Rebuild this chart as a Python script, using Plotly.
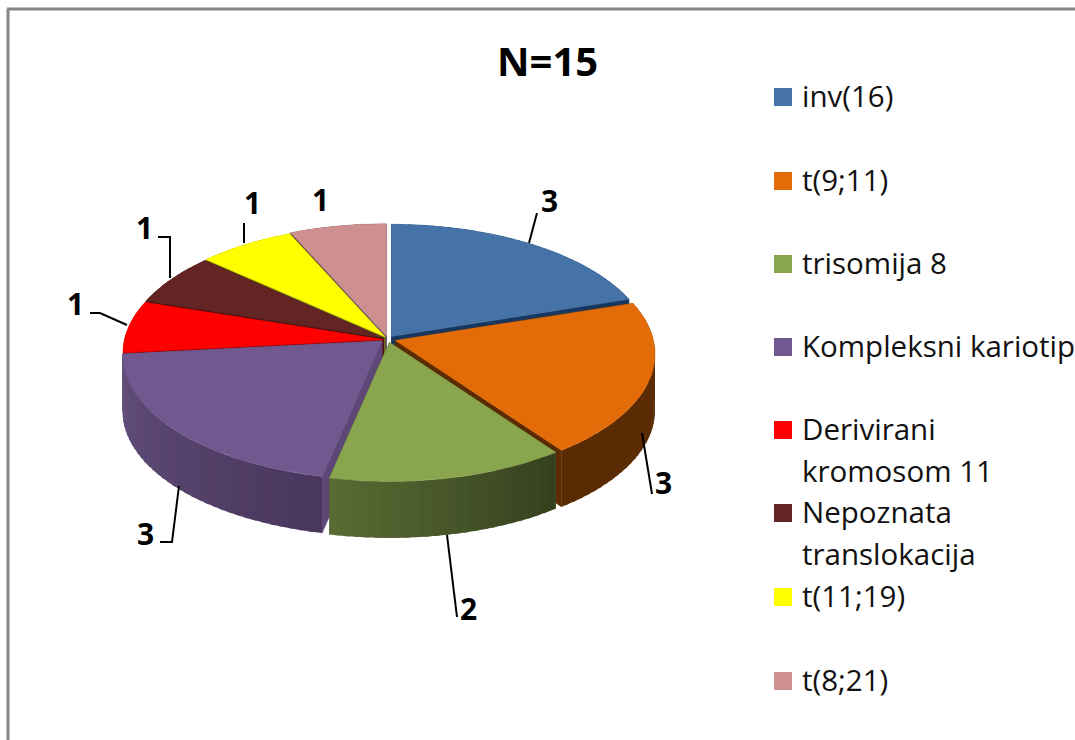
import math
import plotly.graph_objects as go

# ---- data ----
categories = ["inv(16)", "t(9;11)", "trisomija 8", "Kompleksni kariotip",
              "Derivirani\nkromosom 11", "Nepoznata\ntranslokacija", "t(11;19)", "t(8;21)"]
values = [3, 3, 2, 3, 1, 1, 1, 1]
title_text = "N=15"

# ---- styles ----
top_colors = ["#4572A7", "#E36C09", "#89A54E", "#71588F", "#FF0000", "#632523", "#FFFF00", "#CD8F8F"]
wall_left = [(23, 55, 94), (91, 44, 3), (88, 107, 52), (99, 79, 124), (150, 0, 0), (60, 20, 18), (120, 120, 0), (110, 75, 75)]
wall_right = [(23, 55, 94), (91, 44, 3), (54, 64, 30), (74, 55, 94), (150, 0, 0), (60, 20, 18), (120, 120, 0), (110, 75, 75)]
face_colors = ["#17375E", "#5B2C03", "#4F6128", "#5C4776", "#8E0000", "#3A1614", "#6E6E20", "#5E4A5E"]

# ---- pie projection (perspective disc, exploded slices) ----
explode_center = [(391.5, 336.3), (395.5, 340.5), (389.5, 342.5), (382, 341), (382.5, 339.5), (383.5, 338), (385, 336.8), (386.3, 335.8)]
RX, RY, PERSP, DEPTH = 258, 124, 0.1075, 56.5
draw_order = [7, 6, 5, 4, 0, 1, 3, 2]


def project(center, deg, z=0.0, r=1.0):
    a = math.radians(deg)
    X, Y = r * math.sin(a), r * math.cos(a)
    w = 1 + PERSP * Y
    return center[0] + RX * X / w, center[1] - RY * Y / w + z * DEPTH


def poly(points, color, name, width=0.6):
    xs = [p[0] for p in points] + [points[0][0]]
    ys = [p[1] for p in points] + [points[0][1]]
    return go.Scatter(x=xs, y=ys, mode="lines", fill="toself", fillcolor=color,
                      line=dict(color=color, width=width), hoverinfo="text", text=name,
                      showlegend=False)


total = sum(values)
edges = [0.0]
for v in values:
    edges.append(edges[-1] + 360.0 * v / total)

fig = go.Figure()
for i in draw_order:
    c, a0, a1 = explode_center[i], edges[i], edges[i + 1]
    name = categories[i].replace("\n", " ")
    steps = max(2, int(round((a1 - a0) / 2)))
    angles = [a0 + (a1 - a0) * s / steps for s in range(steps + 1)]
    # cut faces
    for a in (a0, a1):
        fig.add_trace(poly([project(c, a, 0, 0), project(c, a), project(c, a, 1), project(c, a, 1, 0)],
                           face_colors[i], name))
    # outer wall, split into overlapping strips for the shading (drawn right to left on the front)
    for s in range(steps):
        t = s / max(1, steps - 1)
        rgb = [round(wall_right[i][k] + (wall_left[i][k] - wall_right[i][k]) * t) for k in range(3)]
        p0, p1 = angles[s], angles[min(s + 1, steps)]
        p1b = min(p1 + 1.0, a1)
        fig.add_trace(poly([project(c, p0), project(c, p1b), project(c, p1b, 1), project(c, p0, 1)],
                           "rgb(%d,%d,%d)" % tuple(rgb), name, width=0))
    # top
    top = [project(c, 0, 0, 0)] + [project(c, a) for a in angles]
    fig.add_trace(poly(top, top_colors[i], name))

# ---- leader lines and data labels ----
leader_paths = [
    [(537, 213), (529, 243)],
    [(642, 433), (652, 494)],
    [(447, 535), (457, 617)],
    [(179, 486), (172, 542), (160, 542)],
    [(127, 325), (100, 313), (90, 313)],
    [(170, 278), (170, 237), (158, 237)],
    [(244, 223), (244, 243)],
]
label_pos = [(549, 200), (663, 482), (468, 608), (145, 533), (75, 303), (144, 227), (252, 202), (320, 199)]
for path in leader_paths:
    fig.add_trace(go.Scatter(x=[p[0] for p in path], y=[p[1] for p in path], mode="lines",
                             line=dict(color="black", width=2), hoverinfo="skip", showlegend=False))
annotations = []
for v, (x, y) in zip(values, label_pos):
    annotations.append(dict(x=x, y=y, text="<b>%d</b>" % v, showarrow=False, xref="x", yref="y",
                            font=dict(family="Open Sans", size=30, color="black")))

# ---- legend ----
legend_y = [97, 181, 264, 347, 430, 513, 597, 681]
line_gap = 42
for i, name in enumerate(categories):
    fig.add_trace(go.Scatter(x=[783], y=[legend_y[i]], mode="markers", hoverinfo="skip", showlegend=False,
                             marker=dict(symbol="square", size=18, color=top_colors[i])))
    for j, part in enumerate(name.split("\n")):
        annotations.append(dict(x=800, y=legend_y[i] + j * line_gap - 1.5, text=part, showarrow=False,
                                xanchor="left", xref="x", yref="y",
                                font=dict(family="Open Sans", size=29.5, color="#111111")))

annotations.append(dict(x=547, y=60, text="<b>%s</b>" % title_text, showarrow=False, xref="x", yref="y",
                        font=dict(family="Open Sans", size=40, color="black")))

fig.update_layout(
    width=1075, height=740, margin=dict(l=0, r=0, t=0, b=0),
    paper_bgcolor="white", plot_bgcolor="white", annotations=annotations, showlegend=False,
    xaxis=dict(range=[0, 1075], visible=False, fixedrange=True),
    yaxis=dict(range=[740, 0], visible=False, fixedrange=True),
    shapes=[
        dict(type="line", x0=8, x1=8, y0=9, y1=740, line=dict(color="#868686", width=3), xref="x", yref="y"),
        dict(type="line", x0=7, x1=1075, y0=9, y1=9, line=dict(color="#868686", width=3), xref="x", yref="y"),
    ],
)
fig.write_html("out.html", config=dict(displayModeBar=False),
               post_script="document.body.style.margin='0';document.documentElement.style.overflow='hidden';")
